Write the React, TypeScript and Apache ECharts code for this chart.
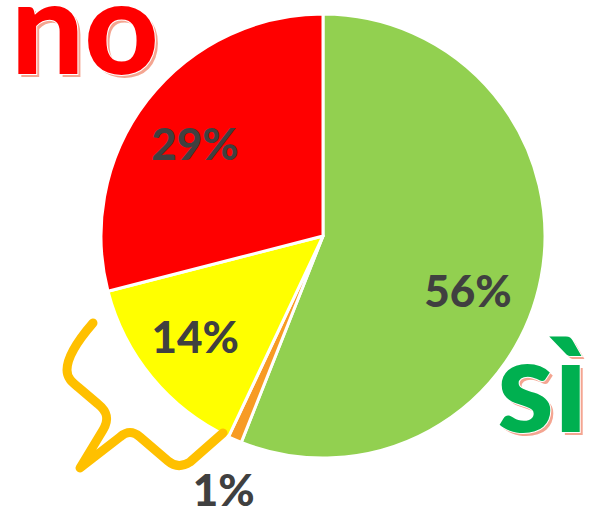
import React, { useEffect, useRef } from "react";
import * as echarts from "echarts";

const categories = ["sì", "non so", "forse", "no"];
const values = [56, 1, 14, 29];
const colors = ["#92D050", "#F79B24", "#FFFF00", "#FF0000"];
const labelOffsets: [number, number][] = [
  [33, 33],
  [-54, 148],
  [-40, 27],
  [-38, -23],
];

const SQUIGGLE =
  "M93,323 C80,338 67,356 67,370 C67,378 72,382 78,387 L98,404 C108,412 109,420 103,430 L80,468 L120,437 C127,431 133,431 140,437 L168,461 C175,467 182,467 190,462 L223,433";

export default function App() {
  const ref = useRef<HTMLDivElement>(null);
  useEffect(() => {
    document.body.style.margin = "0";
    const Squiggle = echarts.graphic.extendPath(SQUIGGLE, {}) as any;
    echarts.graphic.registerShape("squiggle", Squiggle);
    const chart = echarts.init(ref.current!, null, { renderer: "svg" });
    const bigFont = "900 129px Lato";
    chart.setOption({
      animation: false,
      backgroundColor: "#ffffff",
      graphic: [
        {
          type: "squiggle",
          x: 0,
          y: 0,
          z: 10,
          style: {
            fill: null,
            stroke: "#FFC000",
            lineWidth: 9,
            lineCap: "round",
            lineJoin: "round",
          },
        },
        {
          type: "text",
          x: 14,
          y: 27,
          z: 10,
          style: { text: "no", font: bigFont, fill: "#F4A591", verticalAlign: "middle", align: "left" },
        },
        {
          type: "text",
          x: 11,
          y: 24,
          z: 11,
          style: {
            text: "no",
            font: bigFont,
            fill: "#FF0000",
            stroke: "#ffffff",
            lineWidth: 2,
            verticalAlign: "middle",
            align: "left",
          },
        },
        {
          type: "text",
          x: 500,
          y: 385,
          z: 10,
          style: { text: "sì", font: bigFont, fill: "#F4A591", verticalAlign: "middle", align: "left" },
        },
        {
          type: "text",
          x: 497,
          y: 382,
          z: 11,
          style: {
            text: "sì",
            font: bigFont,
            fill: "#00B050",
            stroke: "#ffffff",
            lineWidth: 2,
            verticalAlign: "middle",
            align: "left",
          },
        },
      ],
      series: [
        {
          type: "pie",
          center: [323, 236],
          radius: [0, 222],
          startAngle: 90,
          clockwise: true,
          avoidLabelOverlap: false,
          itemStyle: { borderColor: "#ffffff", borderWidth: 3 },
          label: {
            show: true,
            position: "inside",
            formatter: "{c}%",
            color: "#404040",
            fontFamily: "Lato",
            fontWeight: 900,
            fontSize: 44,
          },
          labelLine: { show: false },
          emphasis: { disabled: true },
          data: categories.map((name, i) => ({
            name,
            value: values[i],
            itemStyle: { color: colors[i] },
            label: { offset: labelOffsets[i] },
          })),
        },
      ],
    });
    return () => chart.dispose();
  }, []);
  return <div ref={ref} style={{ width: 589, height: 506 }} />;
}
